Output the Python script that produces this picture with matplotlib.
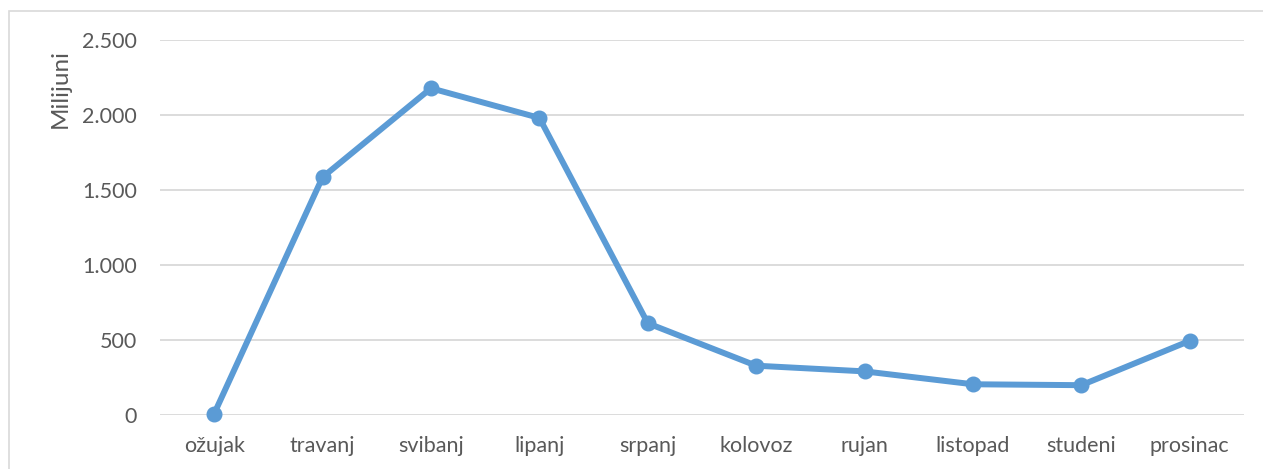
import matplotlib
matplotlib.use("Agg")
import matplotlib.pyplot as plt
from matplotlib.patches import Rectangle

months = ["ožujak", "travanj", "svibanj", "lipanj", "srpanj", "kolovoz",
          "rujan", "listopad", "studeni", "prosinac"]
values = [7, 1585, 2178, 1980, 610, 327, 289, 203, 197, 493]
yticks = [0, 500, 1000, 1500, 2000, 2500]
ytick_labels = ["0", "500", "1.000", "1.500", "2.000", "2.500"]

W, H = 1263, 469
fig = plt.figure(figsize=(W / 100, H / 100), dpi=100)
plt.rcParams['font.family'] = ['Lato', 'DejaVu Sans']

# outer chart border
fig.patches.append(Rectangle((9 / W, -0.1), 1.2, (H - 11) / H + 0.1,
                             transform=fig.transFigure, fill=False,
                             edgecolor="#D9D9D9", linewidth=1.2))

ax = fig.add_axes([160 / W, (H - 414.7) / H, (1244 - 160) / W, (414.7 - 40) / H])
x = list(range(len(months)))
ax.plot(x, values, color="#5B9BD5", linewidth=4.3, marker="o",
        markersize=10.5, solid_capstyle="round", zorder=3, clip_on=False)
ax.set_xlim(-0.5, len(months) - 0.5)
ax.set_ylim(0, 2500)
ax.set_yticks(yticks)
ax.set_yticklabels(ytick_labels)
ax.set_xticks(x)
ax.set_xticklabels(months)
ax.grid(axis="y", color="#D9D9D9", linewidth=1.3)
ax.set_axisbelow(True)
for s in ax.spines.values():
    s.set_visible(False)
ax.tick_params(axis="both", length=0, labelsize=15.5, colors="#595959")
ax.tick_params(axis="y", pad=16.5)
ax.tick_params(axis="x", pad=15)

fig.text(60 / W, 1 - 89 / H, "Milijuni", rotation=90, ha="center", va="center",
         fontsize=17.5, color="#595959")

fig.savefig("out.png", dpi=100)
